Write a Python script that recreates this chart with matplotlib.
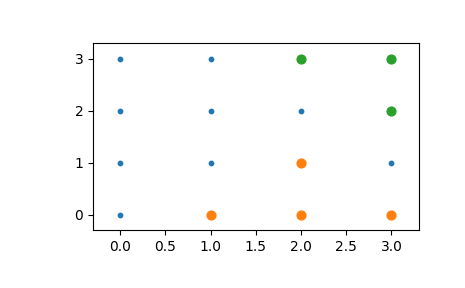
import numpy as np
import matplotlib
matplotlib.use('Agg')
import matplotlib.pyplot as plt

# all grid points
grid_x = [0, 0, 0, 0, 1, 1, 1, 1, 2, 2, 2, 2, 3, 3, 3, 3]
grid_y = [0, 1, 2, 3, 0, 1, 2, 3, 0, 1, 2, 3, 0, 1, 2, 3]

# highlighted points
orange_x = [1, 2, 3, 2]
orange_y = [0, 0, 0, 1]
green_x = [2, 3, 3]
green_y = [3, 3, 2]

fig = plt.figure(figsize=(4.65, 2.88), dpi=100)
ax = fig.add_axes([0.2, 0.2, 0.7, 0.65])

ax.scatter(grid_x, grid_y, s=10, color='C0', zorder=2)
ax.scatter(orange_x, orange_y, s=40, color='C1', zorder=3)
ax.scatter(green_x, green_y, s=40, color='C2', zorder=3)

ax.set_xlim(-0.3, 3.3)
ax.set_ylim(-0.3, 3.3)
ax.set_xticks(np.arange(0, 3.01, 0.5))
ax.set_yticks([0, 1, 2, 3])

fig.savefig('out.png', dpi=100)
